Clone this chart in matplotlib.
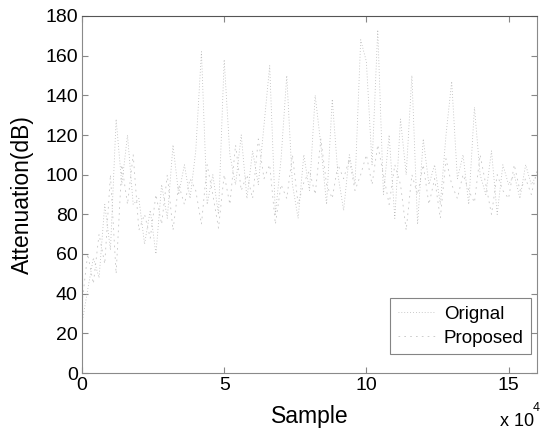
import matplotlib
matplotlib.use('Agg')
import matplotlib.pyplot as plt
import numpy as np

plt.rcParams['font.family'] = ['Liberation Sans', 'DejaVu Sans']

# sample index, in thousands (x 10^3)
sample_k = list(range(0, 162, 2))

# attenuation (dB), one value every 2000 samples
orignal = [25, 42, 58, 48, 85, 62, 128, 95, 120, 85,
           88, 65, 82, 60, 95, 78, 115, 90, 105, 88,
           112, 162, 85, 100, 80, 158, 110, 95, 120, 88,
           112, 95, 125, 155, 80, 108, 150, 95, 78, 110,
           92, 140, 115, 85, 138, 100, 82, 110, 95, 168,
           157, 105, 173, 90, 120, 78, 128, 100, 150, 75,
           118, 95, 105, 85, 120, 147, 98, 110, 85, 134,
           100, 90, 112, 80, 105, 95, 100, 88, 105, 95, 100]

proposed = [35, 60, 45, 70, 55, 100, 50, 105, 85, 110,
            72, 80, 68, 90, 75, 100, 72, 95, 85, 98,
            92, 75, 105, 90, 73, 100, 85, 115, 92, 100,
            88, 118, 98, 105, 75, 95, 88, 110, 85, 96,
            102, 90, 118, 95, 88, 105, 98, 108, 92, 100,
            110, 95, 115, 100, 85, 105, 95, 72, 100, 90,
            105, 85, 98, 78, 108, 95, 88, 100, 92, 86,
            110, 95, 80, 100, 92, 88, 105, 92, 98, 90, 102]

x = np.array(sample_k) * 1000

fig = plt.figure(figsize=(5.48, 4.29), dpi=100)
ax = fig.add_axes([82/548, 1 - 373/429, 455/548, 357/429])

ax.plot(x, orignal, color='#b8b8b8', lw=0.6, linestyle=(0, (1, 2.5)), label='Orignal')
ax.plot(x, proposed, color='#c4c4c4', lw=0.6, linestyle=(0, (2, 5)), label='Proposed')

ax.set_xlim(0, 160000)
ax.set_ylim(0, 180)
ax.set_xticks([0, 50000, 100000, 150000])
ax.set_xticklabels(['0', '5', '10', '15'])
ax.set_yticks(range(0, 181, 20))
ax.tick_params(direction='in', top=True, right=True, length=4, width=0.8,
               color='#888888', labelsize=14, pad=3)
for s in ax.spines.values():
    s.set_color('#8a8a8a')
    s.set_linewidth(0.8)
ax.spines['top'].set_color('#555555')

ax.set_xlabel('Sample', fontsize=16.5, labelpad=8)
ax.set_ylabel('Attenuation(dB)', fontsize=16.5)
ax.yaxis.set_label_coords(-0.105, 0.5)
fig.text(500/548, 1 - 426/429, 'x 10', fontsize=13, va='baseline', ha='left')
fig.text(533/548, 1 - 411/429, '4', fontsize=9, va='baseline', ha='left')

leg = ax.legend(loc='lower right', bbox_to_anchor=(0.987, 0.053), borderaxespad=0,
                fontsize=13.5, fancybox=False, frameon=True, handlelength=2.0,
                handletextpad=0.45, borderpad=0.4, labelspacing=0.35)
leg.get_frame().set_edgecolor('#666666')
leg.get_frame().set_linewidth(0.8)

fig.savefig('out.png', dpi=100)
